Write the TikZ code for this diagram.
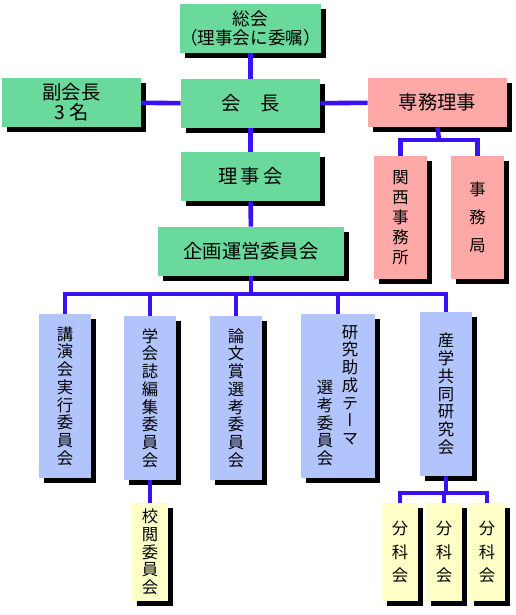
\documentclass[tikz,border=0pt]{standalone}
\usepackage{fontspec}
\usetikzlibrary{shadows}
\newfontfamily\jp{Noto Sans CJK JP}
\newfontfamily\jpv[RawFeature=+vert]{Noto Sans CJK JP}
\definecolor{linkblue}{HTML}{3A12F2}
\definecolor{boxgreen}{HTML}{6ADA9C}
\definecolor{boxpink}{HTML}{FFA8A8}
\definecolor{boxblue}{HTML}{B2C4FC}
\definecolor{boxyellow}{HTML}{FFFFC8}

\begin{document}
\begin{tikzpicture}[
  x=0.02cm, y=-0.02cm,
  box/.style={inner sep=0pt, align=center,
    drop shadow={shadow xshift=0.1cm, shadow yshift=-0.1cm, fill=black, opacity=1}},
  yoko/.style={box, minimum width=2.78cm, minimum height=0.98cm,
    font=\jp\fontsize{11}{11.4}\selectfont},
  tatefont/.style={inner sep=0pt, align=center, font=\jpv\fontsize{9.3}{#1}\selectfont},
  tatefont/.default={10.1},
  tate/.style={box, tatefont=#1},
  tate/.default={10.1},
  tall/.style={tate, minimum width=1.04cm, minimum height=3.28cm, fill=boxblue},
  bunka/.style={tate=13.6, minimum width=0.72cm, minimum height=1.96cm, fill=boxyellow},
  conn/.style={draw=linkblue, line width=2.6pt},
]
\useasboundingbox (0,0) rectangle (516,615);

% top rows
\node[yoko, fill=boxgreen, font=\jp\fontsize{10}{10.8}\selectfont] (sokai) at (250.5,28.5) {総会\\（理事会に委嘱）};
\node[yoko, fill=boxgreen] (kaicho) at (250.5,103.5) {会　長};
\node[yoko, fill=boxgreen] (fuku) at (71.5,102.5) {副会長\\3 名};
\node[yoko, fill=boxpink] (senmu) at (437.5,102.5) {専務理事};
\node[yoko, fill=boxgreen] (rijikai) at (250.5,176.5) {理\hspace{2pt}事\hspace{2pt}会};
\node[yoko, fill=boxgreen, minimum width=3.72cm] (kikaku) at (251,251.5) {企画運営委員会};

\node[tate=11.4, fill=boxpink, minimum width=1.06cm, minimum height=2.46cm] (kansai) at (400.5,217.5) {関\\西\\事\\務\\所};
\node[tate=16, fill=boxpink, minimum width=1.06cm, minimum height=2.46cm] (jimu) at (477.5,217.5) {事\\務\\局};

% committees
\node[tall] (koen) at (65,396) {講\\演\\会\\実\\行\\委\\員\\会};
\node[tall] (gakkai) at (150,398) {学\\会\\誌\\編\\集\\委\\員\\会};
\node[tall] (ronbun) at (236,398) {論\\文\\賞\\選\\考\\委\\員\\会};
\node[tall, minimum width=1.48cm] (kenkyu) at (338,396) {};
\node[tatefont, anchor=north] (kenkyuA) at (350,325) {研\\究\\助\\成\\テ\\ー\\マ};
\node[tatefont, anchor=north] (kenkyuB) at (325,380) {選\\考\\委\\員\\会};
\node[tall] (sangaku) at (446,394) {産\\学\\共\\同\\研\\究\\会};

\node[tate, minimum width=0.72cm, minimum height=1.96cm, fill=boxyellow] (kouetsu) at (150,552) {校\\閲\\委\\員\\会};
\node[bunka] (bunka1) at (400,552) {分\\科\\会};
\node[bunka] (bunka2) at (444,552) {分\\科\\会};
\node[bunka] (bunka3) at (487,552) {分\\科\\会};

% connectors
\coordinate (bus) at (251,294);
\coordinate (sbar) at (439,140);
\coordinate (bbar) at (446,493);

\draw[conn] (sokai) -- (kaicho);
\draw[conn] (fuku) -- (kaicho);
\draw[conn] (kaicho) -- (senmu);
\draw[conn] (kaicho) -- (rijikai);
\draw[conn] (rijikai) -- (kikaku);
\draw[conn] (kikaku.south) -- (bus);
\draw[conn] (koen.north) |- (bus) -| (sangaku.north);
\foreach \n in {gakkai,ronbun}
  \draw[conn] (\n.north) -- (\n.north |- bus);
\draw[conn] (kenkyu.north) -- (kenkyu.north |- bus);
\draw[conn] (senmu.south) -- (sbar);
\draw[conn] (kansai.north) |- (sbar) -| (jimu.north);
\draw[conn] (gakkai.south) -- (kouetsu.north);
\draw[conn] (sangaku.south) -- (bbar);
\draw[conn] (bunka1.north) |- (bbar) -| (bunka3.north);
\draw[conn] (bunka2.north) -- (bunka2.north |- bbar);

\end{tikzpicture}
\end{document}
